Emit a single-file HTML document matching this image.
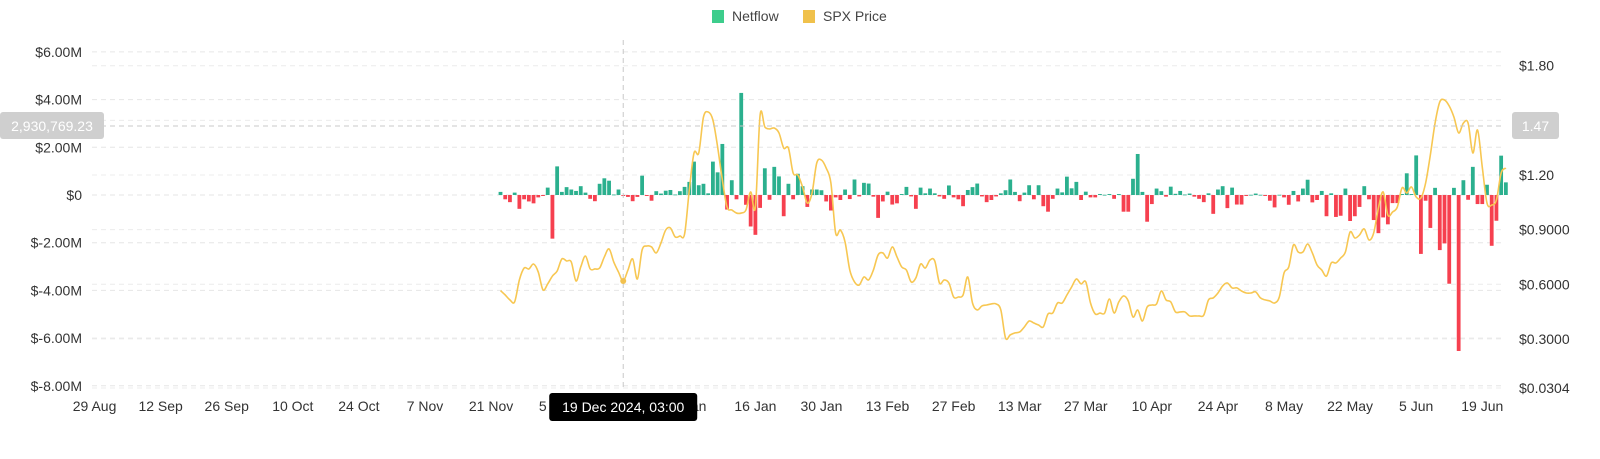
<!DOCTYPE html>
<html><head><meta charset="utf-8">
<style>
html,body{margin:0;padding:0;background:#fff;}
body{width:1600px;height:454px;overflow:hidden;font-family:"Liberation Sans",sans-serif;}
svg text{font-family:"Liberation Sans",sans-serif;}
</style></head>
<body>
<svg id="chart" width="1600" height="454" viewBox="0 0 1600 454" xmlns="http://www.w3.org/2000/svg">
  <g id="legend">
    <g>
      <rect x="712" y="10" width="12" height="13" fill="#3dcd8c"/>
      <text x="732" y="21" font-size="14" fill="#444">Netflow</text>
    </g>
    <g>
      <rect x="803" y="10" width="12" height="13" fill="#f0c14b"/>
      <text x="823" y="21" font-size="14" fill="#444">SPX Price</text>
    </g>
  </g>
  <g id="grid"></g>
  <g id="leftAxis"></g>
  <g id="rightAxis"></g>
  <g id="xAxis"></g>
  <g id="bars"></g>
  <g id="line"></g>
  <g id="cross"></g>
</svg>
<script>
const leftTicks = [6, 4, 2, 0, -2, -4, -6, -8];
const leftTickLabels = ["$6.00M","$4.00M","$2.00M","$0","$-2.00M","$-4.00M","$-6.00M","$-8.00M"];
const rightTicks = [1.8, 1.2, 0.9, 0.6, 0.3, 0.0304];
const rightTickLabels = ["$1.80","$1.20","$0.9000","$0.6000","$0.3000","$0.0304"];
const xTickLabels = ["29 Aug","12 Sep","26 Sep","10 Oct","24 Oct","7 Nov","21 Nov","5 Dec","19 Dec","2 Jan","16 Jan","30 Jan","13 Feb","27 Feb","13 Mar","27 Mar","10 Apr","24 Apr","8 May","22 May","5 Jun","19 Jun"];
const firstBarDay = 86; // days after 29 Aug
const netflow = [
0.13,-0.18,-0.3,0.1,-0.58,-0.18,-0.27,-0.35,-0.1,-0.04,
0.31,-1.83,1.2,0.13,0.33,0.23,0.17,0.37,0.1,-0.16,
-0.26,0.47,0.7,0.6,0.02,0.23,-0.04,-0.08,-0.26,-0.08,
0.81,-0.04,-0.24,0.16,0.06,0.18,0.21,0.02,0.16,0.34,
0.55,1.4,0.41,0.47,0.07,1.4,0.95,2.14,-0.61,0.62,
-0.18,4.28,-0.41,-1.32,-1.67,-0.54,1.12,-0.2,1.18,0.78,
-0.89,0.47,-0.18,0.89,0.37,-0.5,0.23,0.23,
0.2,-0.27,-0.65,-0.1,-0.21,0.23,-0.17,0.65,-0.06,0.51,
0.48,-0.07,-0.96,-0.27,0.14,-0.4,-0.35,0.04,0.34,-0.06,
-0.58,0.31,0.07,0.27,0.07,-0.06,-0.16,0.4,-0.1,-0.18,
-0.47,0.21,0.33,0.48,-0.06,-0.3,-0.21,-0.06,0.07,0.2,
0.65,0.13,-0.26,0.1,0.41,-0.18,0.41,-0.47,-0.7,-0.16,
0.27,0.11,0.77,0.28,0.55,-0.21,0.14,-0.1,-0.1,0.04,
0.01,0.04,-0.16,0.04,-0.7,-0.7,0.68,1.72,
0.13,-1.12,-0.38,0.27,0.16,-0.07,0.35,0.05,0.17,0.02,
0.06,-0.07,-0.16,-0.3,0.07,-0.79,0.23,0.37,-0.55,0.31,
-0.4,-0.4,-0.04,0.01,0.06,0.01,-0.04,-0.24,-0.52,0.01,
-0.1,-0.41,0.17,-0.27,0.27,0.64,-0.31,-0.21,0.17,-0.89,
0.07,-0.92,-0.87,0.27,-1.09,-0.89,-0.5,0.37,-0.18,-1.05,
-1.6,-0.94,-1.23,-0.34,-0.34,0.04,0.91,0.04,1.66,-2.47,
-0.24,-1.38,0.3,-2.31,-2.03,-3.72,0.3,-6.54,0.62,-0.2,
1.18,-0.38,-0.38,0.43,-2.13,-1.08,1.65,0.53
];
const spxPrice = [
0.565,0.541,0.514,0.504,0.624,0.689,0.684,0.711,0.667,0.569,
0.602,0.645,0.673,0.739,0.728,0.722,0.618,0.695,0.755,0.684,
0.684,0.689,0.750,0.794,0.722,0.667,0.618,0.678,0.739,0.629,
0.788,0.810,0.805,0.772,0.827,0.898,0.909,0.860,0.865,0.876,
1.118,1.321,1.321,1.518,1.546,1.502,1.354,1.173,1.024,1.008,
0.991,0.991,1.008,1.107,1.024,1.529,1.464,1.453,1.458,1.431,
1.348,1.348,1.211,1.200,1.134,1.046,1.101,1.266,
1.282,1.238,1.156,0.882,0.898,0.832,0.678,0.613,0.596,0.640,
0.624,0.678,0.761,0.772,0.744,0.805,0.750,0.695,0.678,0.613,
0.635,0.711,0.689,0.733,0.728,0.607,0.624,0.607,0.530,0.530,
0.541,0.640,0.497,0.459,0.481,0.486,0.492,0.492,0.459,0.305,
0.322,0.333,0.338,0.366,0.398,0.387,0.376,0.366,0.437,0.442,
0.497,0.497,0.541,0.585,0.629,0.602,0.613,0.497,0.437,0.442,
0.442,0.519,0.442,0.503,0.536,0.508,0.420,0.459,
0.398,0.475,0.486,0.492,0.563,0.514,0.503,0.448,0.448,0.448,
0.426,0.426,0.426,0.431,0.514,0.525,0.552,0.591,0.607,0.580,
0.580,0.563,0.552,0.552,0.558,0.525,0.514,0.508,0.497,0.530,
0.662,0.695,0.816,0.777,0.777,0.821,0.772,0.706,0.678,0.645,
0.717,0.717,0.744,0.777,0.887,0.854,0.871,0.904,0.843,0.882,
1.019,1.107,0.980,0.997,1.024,1.129,1.101,1.134,1.079,1.074,
1.156,1.310,1.485,1.601,1.612,1.579,1.518,1.431,1.485,1.485,
1.321,1.447,1.244,1.046,1.035,1.063,1.211,1.238
];
const crossDayIndex = 26;
const crossLeftLabel = "2,930,769.23";
const crossRightLabel = "1.47";
const tooltipText = "19 Dec 2024, 03:00";

const NS = "http://www.w3.org/2000/svg";
const X0 = 92, X1 = 1505;
function xDay(d){ return 96 + (d - 0.3) * 4.72; }
function yLeft(v){ return 195 - v * 23.85; }
function yRight(p){ return 175 - (p - 1.2) * 182.1; }
function mk(tag, attrs, parent){ const e = document.createElementNS(NS, tag); for (const k in attrs) e.setAttribute(k, attrs[k]); parent.appendChild(e); return e; }

const grid = document.getElementById('grid');
leftTicks.forEach(v => {
  const l = mk('line', {x1:X0, x2:X1, y1:yLeft(v), y2:yLeft(v), stroke:'#e6e6e6', 'stroke-dasharray':'5,4', 'stroke-width':1}, grid);
  
  
});
rightTicks.concat([1.5]).forEach(p => {
  const l = mk('line', {x1:X0, x2:X1, y1:yRight(p), y2:yRight(p), stroke:'#ececec', 'stroke-dasharray':'5,4', 'stroke-width':1}, grid);
  
  
});

const la = document.getElementById('leftAxis');
leftTicks.forEach((v, i) => {
  const t = mk('text', {x:82, y:yLeft(v) + 5, 'text-anchor':'end', 'font-size':14, fill:'#333'}, la);
  t.textContent = leftTickLabels[i];
  
  
});
const ra = document.getElementById('rightAxis');
rightTicks.forEach((p, i) => {
  const t = mk('text', {x:1519, y:yRight(p) + 5, 'font-size':14, fill:'#333'}, ra);
  t.textContent = rightTickLabels[i];
  
  
});
const xa = document.getElementById('xAxis');
xTickLabels.forEach((s, i) => {
  const t = mk('text', {x:xDay(i * 14), y:411, 'text-anchor':'middle', 'font-size':14, fill:'#333'}, xa);
  t.textContent = s;
  
  
});

const bars = document.getElementById('bars');
netflow.forEach((v, i) => {
  const x = xDay(firstBarDay + i);
  const y0 = yLeft(0), y1 = yLeft(v);
  const r = mk('rect', {x:x - 1.9, width:3.8, y:Math.min(y0, y1), height:Math.max(0.8, Math.abs(y1 - y0)), fill: v >= 0 ? '#2bb08e' : '#f6404f'}, bars);
  
  
});

const pts = spxPrice.map((p, i) => [xDay(firstBarDay + i), yRight(p)]);
let d = 'M' + pts[0][0] + ',' + pts[0][1];
for (let i = 0; i < pts.length - 1; i++) {
  const p0 = pts[Math.max(0, i - 1)], p1 = pts[i], p2 = pts[i + 1], p3 = pts[Math.min(pts.length - 1, i + 2)];
  const c1x = p1[0] + (p2[0] - p0[0]) / 6, c1y = p1[1] + (p2[1] - p0[1]) / 6;
  const c2x = p2[0] - (p3[0] - p1[0]) / 6, c2y = p2[1] - (p3[1] - p1[1]) / 6;
  d += ' C' + c1x + ',' + c1y + ' ' + c2x + ',' + c2y + ' ' + p2[0] + ',' + p2[1];
}
const lineG = document.getElementById('line');
const path = mk('path', {d:d, fill:'none', stroke:'#f7c752', 'stroke-width':1.6}, lineG);



const cross = document.getElementById('cross');
const cx = xDay(firstBarDay + crossDayIndex);
const cy = 126;
const vl = mk('line', {x1:cx, x2:cx, y1:40, y2:388, stroke:'#c8c8c8', 'stroke-dasharray':'5,4'}, cross);


const hl = mk('line', {x1:X0, x2:X1, y1:cy, y2:cy, stroke:'#c8c8c8', 'stroke-dasharray':'5,4'}, cross);


const dot = mk('circle', {cx:cx, cy:yRight(spxPrice[crossDayIndex]), r:3, fill:'#f2c14e'}, cross);


const lb = mk('rect', {x:0, y:112, width:104, height:27, rx:3, fill:'#cfcfcf'}, cross);


const lt = mk('text', {x:52, y:131, 'text-anchor':'middle', 'font-size':14, fill:'#fff'}, cross);
lt.textContent = crossLeftLabel;


const rb = mk('rect', {x:1512, y:112, width:47, height:27, rx:3, fill:'#cfcfcf'}, cross);


const rt = mk('text', {x:1535.5, y:131, 'text-anchor':'middle', 'font-size':14, fill:'#fff'}, cross);
rt.textContent = crossRightLabel;


const tb = mk('rect', {x:cx - 74, y:393, width:148, height:28, rx:3, fill:'#000'}, cross);


const tt = mk('text', {x:cx, y:412, 'text-anchor':'middle', 'font-size':14, fill:'#fff'}, cross);
tt.textContent = tooltipText;


</script>
</body></html>
